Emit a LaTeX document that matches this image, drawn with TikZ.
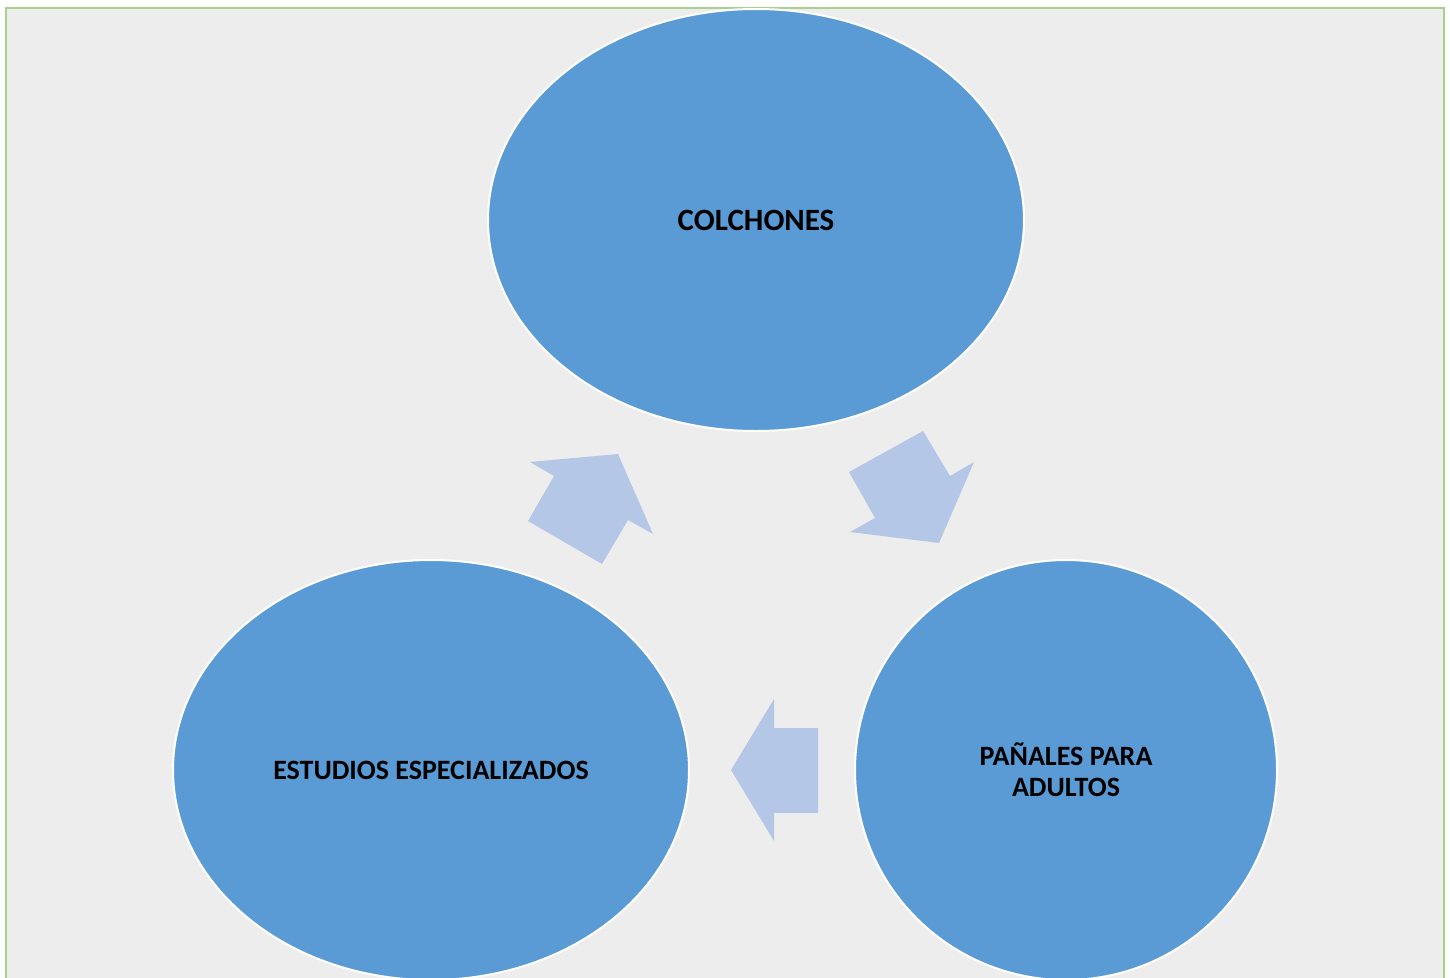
\documentclass[tikz,border=0pt]{standalone}
\usepackage{fontspec}
\setmainfont{Carlito}
\usetikzlibrary{shapes.geometric}
\definecolor{bgc}{HTML}{EDEDED}
\definecolor{frame}{HTML}{A9D18E}
\definecolor{ell}{HTML}{5B9BD5}
\definecolor{arr}{HTML}{B4C7E7}
\tikzset{
  bubble/.style={ellipse, fill=ell, draw=white, line width=2pt, inner sep=0pt,
    font=\bfseries\fontsize{28}{31}\selectfont, align=center, text=black},
  flow/.style={fill=arr, draw=none}
}
\begin{document}
\begin{tikzpicture}[x=1pt,y=-1pt]
\useasboundingbox (0,0) rectangle (1450,977);
\fill[white] (0,0) rectangle (1450,977);
\begin{scope}
\clip (0,0) rectangle (1450,977);
\fill[bgc] (6,8) rectangle (1444,990);
\draw[frame, line width=2.5pt] (6,990) -- (6,8) -- (1444,8) -- (1444,990);
\node[bubble, minimum width=536pt, minimum height=422pt, font=\bfseries\fontsize{31}{34}\selectfont] (col) at (756,220) {COLCHONES};
\node[bubble, minimum width=516pt, minimum height=420pt] (est) at (431,770) {ESTUDIOS ESPECIALIZADOS};
\node[bubble, minimum width=422pt, minimum height=420pt] (pan) at (1066,770) {PAÑALES PARA\\ADULTOS};
\fill[flow] (530,462) -- (618,454) -- (653,534) -- (628,520) -- (602,564) -- (528,521) -- (554,476) -- cycle;
\fill[flow] (923,431) -- (950,476) -- (974,462) -- (939,543) -- (850,532) -- (875,518) -- (849,472) -- cycle;
\fill[flow] (774,699) -- (774,728) -- (818,728) -- (818,813) -- (774,813) -- (774,841) -- (731,770) -- cycle;
\end{scope}
\end{tikzpicture}
\end{document}
